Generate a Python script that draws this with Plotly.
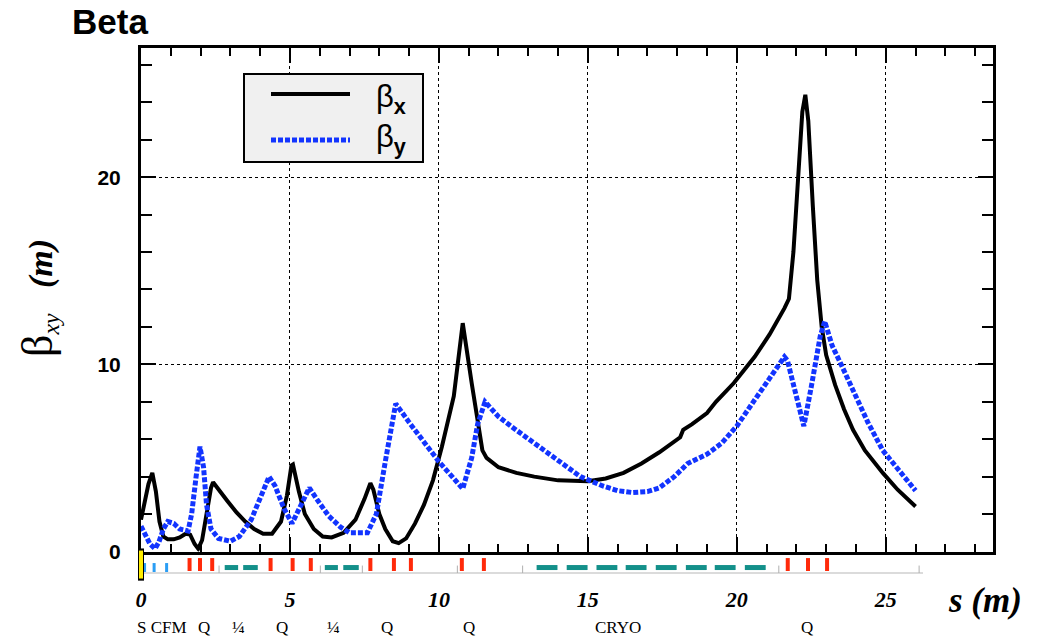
import plotly.graph_objects as go

# ---------------- data ----------------
S_X = [0.0, 0.1, 0.25, 0.38, 0.5, 0.62, 0.75, 0.9, 1.1, 1.3, 1.5, 1.65, 1.8, 1.92, 2.05, 2.2, 2.35, 2.42,
       2.6, 2.9, 3.2, 3.5, 3.8, 4.1, 4.4, 4.7, 4.9, 5.05, 5.1, 5.3, 5.5, 5.8, 6.1, 6.4, 6.8, 7.2, 7.5,
       7.7, 7.8, 8.0, 8.2, 8.45, 8.65, 8.9, 9.2, 9.5, 9.8, 10.1, 10.5, 10.8, 11.1, 11.46, 11.6, 12.0,
       12.6, 13.2, 14.0, 15.0, 15.6, 16.2, 16.8, 17.4, 18.1, 18.2, 18.5, 19.0, 19.3, 19.9, 20.6, 21.1,
       21.6, 21.75, 21.9, 22.05, 22.2, 22.3, 22.4, 22.55, 22.7, 22.85, 23.0, 23.3, 23.6, 23.9, 24.3,
       24.9, 25.4, 26.0]
BETA_X = [1.7, 2.5, 3.6, 4.2, 3.2, 1.6, 0.8, 0.65, 0.65, 0.75, 0.95, 0.9, 0.4, 0.15, 0.6, 2.0, 3.4, 3.7,
          3.3, 2.7, 2.1, 1.6, 1.2, 0.95, 0.95, 1.6, 3.0, 4.6, 4.65, 3.2, 2.0, 1.2, 0.8, 0.75, 1.0, 1.7, 2.8,
          3.65, 3.3, 2.0, 1.2, 0.55, 0.45, 0.7, 1.5, 2.5, 3.8, 5.6, 8.3, 12.2, 9.0, 5.4, 5.0, 4.5,
          4.2, 4.0, 3.8, 3.75, 3.9, 4.2, 4.7, 5.3, 6.1, 6.5, 6.8, 7.4, 8.0, 9.0, 10.4, 11.6,
          13.0, 13.5, 16.0, 19.5, 23.5, 24.4, 23.0, 18.5, 14.5, 12.0, 10.5, 8.9, 7.6, 6.5, 5.4,
          4.2, 3.3, 2.4]

S_Y = [0.0, 0.15, 0.3, 0.47, 0.6, 0.75, 0.9, 1.1, 1.3, 1.58, 1.7, 1.85, 1.98, 2.1, 2.2, 2.35, 2.6, 3.0,
       3.3, 3.7, 4.05, 4.3, 4.5, 4.8, 5.07, 5.3, 5.65, 5.9, 6.3, 6.7, 7.0, 7.6, 7.9, 8.2, 8.55, 9.0,
       9.5, 10.0, 10.5, 10.8, 11.1, 11.3, 11.55, 12.0, 12.5, 13.2, 14.0, 14.75, 15.5, 16.0, 16.5,
       17.0, 17.4, 17.9, 18.35, 19.0, 19.5, 20.0, 20.6, 21.1, 21.6, 21.7, 22.0, 22.25, 22.5, 22.8,
       22.95, 23.2, 23.5, 23.9, 24.4, 24.9, 25.5, 26.0]
BETA_Y = [1.35, 0.9, 0.4, 0.15, 0.5, 1.2, 1.6, 1.5, 1.2, 1.1, 2.0, 4.0, 5.6, 4.5, 2.5, 1.2, 0.7, 0.55,
          0.8, 1.7, 3.0, 4.0, 3.5, 2.3, 1.5, 2.3, 3.4, 2.8, 1.9, 1.3, 1.0, 1.0, 2.0, 4.8, 7.9, 6.9,
          5.8, 4.8, 3.9, 3.35, 5.0, 6.8, 8.0, 7.2, 6.6, 5.8, 4.9, 4.0, 3.5, 3.25, 3.15,
          3.2, 3.4, 4.0, 4.7, 5.2, 5.8, 6.7, 8.1, 9.2, 10.4, 10.2, 8.4, 6.7, 8.8, 11.5,
          12.3, 11.0, 10.0, 8.6, 6.9, 5.4, 4.2, 3.25]

# beamline elements (positions along s, metres)
SOURCE_S = [0.0]
CORRECTOR_S = [0.12, 0.44, 0.86]
QUAD_S = [1.63, 1.98, 2.39, 4.35, 5.09, 5.70, 7.70, 8.49, 9.06, 10.77, 11.51, 21.71, 22.39, 23.03]
DIPOLE_START = [2.81, 3.43, 6.17, 6.79, 13.28, 14.29, 15.29, 16.27, 17.28, 18.29, 19.26, 20.27]
DIPOLE_END = [3.26, 3.92, 6.61, 7.31, 13.98, 14.99, 15.99, 16.97, 17.98, 18.99, 19.96, 20.97]
SEPARATOR_S = [2.62, 6.02, 7.43, 10.62, 12.81, 21.41, 26.12]
BEAMLINE_END = 26.25

ELEMENT_LABELS = ["S CFM", "Q", "¼", "Q", "¼", "Q", "Q", "CRYO", "Q"]
ELEMENT_LABEL_S = [0.0, 2.12, 3.26, 4.74, 6.45, 8.27, 11.0, 16.0, 22.35]

X_TICKS = [0, 5, 10, 15, 20, 25]
X_TICK_TEXT = ["0", "5", "10", "15", "20", "25"]
Y_TICKS = [0, 10, 20]
Y_TICK_TEXT = ["0", "10", "20"]

SERIF = "Liberation Serif"
SANS = "Liberation Sans"

fig = go.Figure()

# ---------------- beta functions ----------------
fig.add_trace(go.Scatter(x=S_X, y=BETA_X, mode="lines", name="βx",
                         line=dict(color="black", width=4), xaxis="x", yaxis="y"))
fig.add_trace(go.Scatter(x=S_Y, y=BETA_Y, mode="lines", name="βy",
                         line=dict(color="#1234ff", width=5, dash="5px,2px"), xaxis="x", yaxis="y"))

# ---------------- element strip ----------------
def segs(xs0, xs1, y0, y1):
    xx, yy = [], []
    for a, b in zip(xs0, xs1):
        xx += [a, b, None]
        yy += [y0, y1, None]
    return xx, yy

bx, by = segs([0], [BEAMLINE_END], 0.2, 0.2)
fig.add_trace(go.Scatter(x=bx, y=by, mode="lines", line=dict(color="#cfcfcf", width=1.5),
                         xaxis="x2", yaxis="y2", hoverinfo="skip"))
sx, sy = segs(SEPARATOR_S, SEPARATOR_S, 0.2, 0.5)
fig.add_trace(go.Scatter(x=sx, y=sy, mode="lines", line=dict(color="#b0b0b0", width=1),
                         xaxis="x2", yaxis="y2", hoverinfo="skip"))
dx, dy = segs(DIPOLE_START, DIPOLE_END, 0.42, 0.42)
fig.add_trace(go.Scatter(x=dx, y=dy, mode="lines", line=dict(color="#13908a", width=5),
                         xaxis="x2", yaxis="y2", name="dipoles"))
qx, qy = segs(QUAD_S, QUAD_S, 0.28, 0.8)
fig.add_trace(go.Scatter(x=qx, y=qy, mode="lines", line=dict(color="#ff2a0a", width=4),
                         xaxis="x2", yaxis="y2", name="quadrupoles"))
cx, cy = segs(CORRECTOR_S, CORRECTOR_S, 0.24, 0.6)
fig.add_trace(go.Scatter(x=cx, y=cy, mode="lines", line=dict(color="#2a9df4", width=3),
                         xaxis="x2", yaxis="y2", name="correctors"))
# source marker (yellow box outlined in black)
fig.add_trace(go.Scatter(x=SOURCE_S, y=[0.54] * len(SOURCE_S), mode="markers", cliponaxis=False,
                         marker=dict(symbol="line-ns", size=23, line=dict(color="black", width=6)),
                         xaxis="x2", yaxis="y2", hoverinfo="skip"))
fig.add_trace(go.Scatter(x=SOURCE_S, y=[0.54] * len(SOURCE_S), mode="markers", cliponaxis=False,
                         marker=dict(symbol="line-ns", size=20, line=dict(color="#ffee00", width=4)),
                         xaxis="x2", yaxis="y2", name="source"))

# ---------------- axes ----------------
axis_common = dict(showline=True, linecolor="black", linewidth=3, mirror="allticks",
                   ticks="inside", tickcolor="black", tickwidth=2, zeroline=False,
                   showgrid=True, gridcolor="black", griddash="dot", gridwidth=1)

fig.update_layout(
    width=1043, height=644, autosize=False,
    margin=dict(l=141, r=50, t=48, b=66),
    paper_bgcolor="white", plot_bgcolor="white",
    showlegend=False,
    title=dict(text="<b>Beta</b>", x=72 / 1043, xanchor="left", y=1 - 22 / 644, yanchor="middle",
               font=dict(family=SANS, size=35, color="black")),
    xaxis=dict(domain=[0, 1], range=[0, 28.6], anchor="y", tickmode="array", tickvals=X_TICKS,
               ticktext=X_TICK_TEXT, ticklen=15, ticklabelstandoff=26,
               tickfont=dict(family=SERIF, size=22, color="black", weight="bold", style="italic"),
               minor=dict(dtick=1, tick0=0, ticks="inside", ticklen=8, tickwidth=2,
                          tickcolor="black", showgrid=False),
               **axis_common),
    yaxis=dict(domain=[0.05, 1], range=[0, 26.9], anchor="x", tickmode="array", tickvals=Y_TICKS,
               ticktext=Y_TICK_TEXT, ticklen=15, ticklabelstandoff=13,
               tickfont=dict(family=SANS, size=21, color="black", weight="bold"),
               minor=dict(dtick=2, tick0=0, ticks="inside", ticklen=11, tickwidth=2,
                          tickcolor="black", showgrid=False),
               **axis_common),
    xaxis2=dict(domain=[0, 1], anchor="y2", matches="x", visible=False),
    yaxis2=dict(domain=[0, 0.047], range=[0, 1], anchor="x2", visible=False, fixedrange=True),
)

# ---------------- legend (drawn as a framed box) ----------------
def px_x(p):
    return (p - 141) / 852

def px_y(p):
    return (578 - p) / 530

fig.add_shape(type="rect", xref="paper", yref="paper", x0=px_x(244), x1=px_x(423),
              y0=px_y(162), y1=px_y(74), fillcolor="#f0f0f0", line=dict(color="black", width=2),
              layer="above")
fig.add_shape(type="line", xref="paper", yref="paper", x0=px_x(271), x1=px_x(350),
              y0=px_y(94), y1=px_y(94), line=dict(color="black", width=4), layer="above")
fig.add_shape(type="line", xref="paper", yref="paper", x0=px_x(271), x1=px_x(350),
              y0=px_y(140), y1=px_y(140), line=dict(color="#1234ff", width=5, dash="5px,2px"),
              layer="above")
fig.add_annotation(xref="paper", yref="paper", x=px_x(374), y=px_y(99), xanchor="left",
                   yanchor="middle", showarrow=False, text="β<sub><b>x</b></sub>",
                   font=dict(family=SANS, size=31, color="black"))
fig.add_annotation(xref="paper", yref="paper", x=px_x(374), y=px_y(139), xanchor="left",
                   yanchor="middle", showarrow=False, text="β<sub><b>y</b></sub>",
                   font=dict(family=SANS, size=31, color="black"))

# ---------------- axis titles ----------------
fig.add_annotation(xref="paper", yref="paper", x=px_x(38), y=px_y(298), showarrow=False,
                   textangle=-90, xanchor="center", yanchor="middle",
                   text="<span style='font-size:44px'>β</span><sub><i>xy</i></sub>   <b><i>(m)</i></b>",
                   font=dict(family=SERIF, size=34, color="black"))
fig.add_annotation(xref="paper", yref="paper", x=px_x(985), y=px_y(600), showarrow=False,
                   xanchor="center", yanchor="middle", text="<b><i>s (m)</i></b>",
                   font=dict(family=SERIF, size=35, color="black"))

# ---------------- element labels ----------------
for i, (lab, s) in enumerate(zip(ELEMENT_LABELS, ELEMENT_LABEL_S)):
    fig.add_annotation(xref="x", yref="paper", x=s, y=px_y(627), showarrow=False,
                       xanchor="left" if i == 0 else "center", xshift=-6 if i == 0 else 0,
                       yanchor="middle", text=lab,
                       font=dict(family=SERIF, size=17, color="black"))

fig.write_html("out.html", config={"displayModeBar": False},
               post_script="document.body.style.margin='0';document.body.style.overflow='hidden';")
